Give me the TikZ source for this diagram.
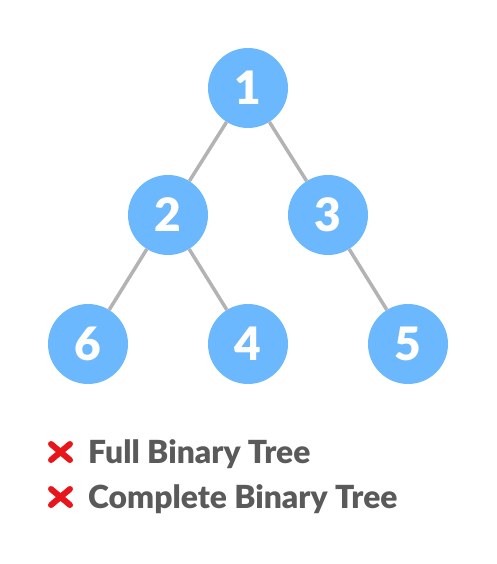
\documentclass[tikz,border=0pt]{standalone}
\usepackage{fontspec}
\setmainfont{Lato}[UprightFont=* Black]
\definecolor{nodeblue}{HTML}{6BB8FF}
\definecolor{edgegray}{HTML}{B3B3B3}
\definecolor{textgray}{HTML}{5A5A5A}
\definecolor{xred}{HTML}{E8161B}
\begin{document}
\begin{tikzpicture}[x=1pt,y=-1pt,
  tnode/.style={circle,fill=nodeblue,minimum size=80pt,inner sep=0pt,text=white,font=\fontsize{46}{46}\selectfont},
  edge/.style={draw=edgegray,line width=3.5pt},
  lbl/.style={anchor=base west,inner sep=0pt,text=textgray,font=\fontsize{31.8}{31.8}\selectfont},
  xmark/.style={draw=xred,line width=6pt,line cap=round}]
\useasboundingbox (0,0) rectangle (496,564);
\node[tnode] (n1) at (248,88) {1};
\node[tnode] (n2) at (168,215) {2};
\node[tnode] (n3) at (328,215) {3};
\node[tnode] (n6) at (88,344) {6};
\node[tnode] (n4) at (248,344) {4};
\node[tnode] (n5) at (408,344) {5};
\draw[edge] (n1) -- (n2);
\draw[edge] (n1) -- (n3);
\draw[edge] (n2) -- (n6);
\draw[edge] (n2) -- (n4);
\draw[edge] (n3) -- (n5);
\node[lbl] (t1) at (88,463) {Full Binary Tree};
\node[lbl] (t2) at (88,508) {Complete Binary Tree};
\coordinate (a1) at (51,444);
\coordinate (b1) at (70,460);
\coordinate (c1) at (70,444);
\coordinate (d1) at (51,460);
\draw[xmark] (a1) -- (b1);
\draw[xmark] (c1) -- (d1);
\coordinate (a2) at (51,489);
\coordinate (b2) at (70,505);
\coordinate (c2) at (70,489);
\coordinate (d2) at (51,505);
\draw[xmark] (a2) -- (b2);
\draw[xmark] (c2) -- (d2);
\end{tikzpicture}
\end{document}
